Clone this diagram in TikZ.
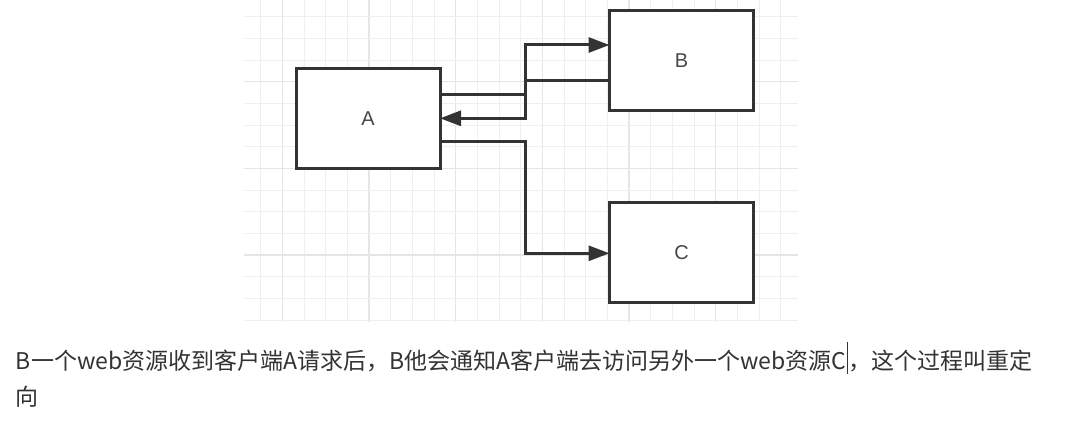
\documentclass[tikz,border=0pt]{standalone}
\usepackage{fontspec}
\usetikzlibrary{arrows.meta,calc}
\newfontfamily\cjkfont{Noto Sans CJK SC}
\newfontfamily\labfont{Liberation Sans}
\definecolor{ink}{HTML}{333333}
\definecolor{gridminor}{HTML}{EFEFEF}
\definecolor{gridmajor}{HTML}{E5E5E5}
\tikzset{
  box/.style={draw=ink, line width=3pt, fill=white, minimum width=144pt, minimum height=100pt,
    inner sep=0pt, outer sep=0pt, font=\labfont\fontsize{20}{24}\selectfont, text=ink!90},
  conn/.style={draw=ink, line width=3pt, -{Triangle[length=21pt,width=15pt]}},
  gminor/.style={draw=gridminor, line width=1pt},
  gmajor/.style={draw=gridmajor, line width=1.4pt},
  para/.style={inner sep=0pt, outer sep=0pt, font=\cjkfont\fontsize{23}{28}\selectfont, text=ink, anchor=base west},
}
\begin{document}
\begin{tikzpicture}[x=1pt,y=-1pt]
\useasboundingbox[fill=white] (0,0) rectangle (1068,441);
% grid
\foreach \k in {0,...,24}{
  \pgfmathsetmacro{\gx}{260.7+21.67*\k}
  \pgfmathtruncatemacro{\m}{mod(\k+3,4)}
  \ifnum\m=0
    \draw[gmajor] (\gx,0) -- (\gx,322);
  \else
    \draw[gminor] (\gx,0) -- (\gx,322);
  \fi
}
\foreach \j in {0,...,14}{
  \pgfmathsetmacro{\gy}{16.7+21.67*\j}
  \pgfmathtruncatemacro{\m}{mod(\j+1,4)}
  \ifnum\m=0
    \draw[gmajor] (244,\gy) -- (798,\gy);
  \else
    \draw[gminor] (244,\gy) -- (798,\gy);
  \fi
}
% boxes
\node[box] (A) at (368,118.3) {A};
\node[box] (B) at (681.5,61) {B};
\node[box] (C) at (681.5,252.5) {C};
% connectors
\draw[conn] ([yshift=24pt]A.east) -- ++(85,0) |- ([yshift=16pt]B.west);
\draw[conn] ([yshift=-19.7pt]B.west) -- ++(-84.3,0) |- (A.east);
\draw[conn] ([yshift=-23.4pt]A.east) -- ++(85,0) |- ([yshift=-0.8pt]C.west);
% text
\node[para] (T1) at (16,369) {B一个web资源收到客户端A请求后，B他会通知A客户端去访问另外一个web资源C};
\draw[ink, line width=1pt] ($(T1.base east)+(1,-27)$) -- ($(T1.base east)+(1,5)$);
\node[para] (T2) at ($(T1.base east)+(2,0)$) {，这个过程叫重定};
\node[para] (T3) at (16,405) {向};
\end{tikzpicture}
\end{document}
